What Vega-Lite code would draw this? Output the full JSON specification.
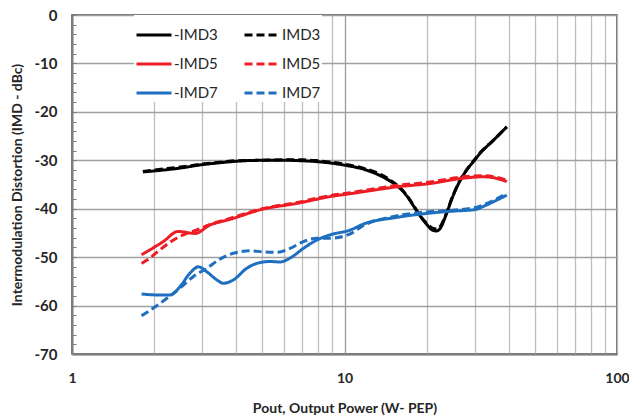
{
  "$schema": "https://vega.github.io/schema/vega-lite/v6.json",
  "width": 545,
  "height": 339,
  "autosize": {"type": "none"},
  "padding": {"left": 72, "top": 15, "right": 12, "bottom": 64},
  "background": "white",
  "config": {
    "view": {"stroke": "#404040", "strokeWidth": 1.5},
    "font": "Lato"
  },
  "data": {
    "values": [
      {"x": 1.82, "y": -32.4, "series": "-IMD3"},
      {"x": 2, "y": -32.2, "series": "-IMD3"},
      {"x": 2.5, "y": -31.6, "series": "-IMD3"},
      {"x": 3, "y": -30.9, "series": "-IMD3"},
      {"x": 3.5, "y": -30.5, "series": "-IMD3"},
      {"x": 4, "y": -30.2, "series": "-IMD3"},
      {"x": 5, "y": -30.0, "series": "-IMD3"},
      {"x": 6, "y": -30.0, "series": "-IMD3"},
      {"x": 7, "y": -30.1, "series": "-IMD3"},
      {"x": 8, "y": -30.3, "series": "-IMD3"},
      {"x": 9, "y": -30.6, "series": "-IMD3"},
      {"x": 10, "y": -31.0, "series": "-IMD3"},
      {"x": 12, "y": -32.0, "series": "-IMD3"},
      {"x": 14, "y": -33.6, "series": "-IMD3"},
      {"x": 15, "y": -34.6, "series": "-IMD3"},
      {"x": 16, "y": -35.8, "series": "-IMD3"},
      {"x": 17, "y": -37.5, "series": "-IMD3"},
      {"x": 18, "y": -39.6, "series": "-IMD3"},
      {"x": 19, "y": -41.6, "series": "-IMD3"},
      {"x": 20, "y": -43.2, "series": "-IMD3"},
      {"x": 21, "y": -44.4, "series": "-IMD3"},
      {"x": 21.7, "y": -44.6, "series": "-IMD3"},
      {"x": 22.5, "y": -44.0, "series": "-IMD3"},
      {"x": 23.5, "y": -41.5, "series": "-IMD3"},
      {"x": 25, "y": -37.4, "series": "-IMD3"},
      {"x": 26.5, "y": -34.3, "series": "-IMD3"},
      {"x": 28.1, "y": -32.0, "series": "-IMD3"},
      {"x": 30, "y": -30.0, "series": "-IMD3"},
      {"x": 31.4, "y": -28.6, "series": "-IMD3"},
      {"x": 35, "y": -26.0, "series": "-IMD3"},
      {"x": 39.4, "y": -23.1, "series": "-IMD3"},

      {"x": 1.82, "y": -32.3, "series": "IMD3"},
      {"x": 2, "y": -32.0, "series": "IMD3"},
      {"x": 2.5, "y": -31.4, "series": "IMD3"},
      {"x": 3, "y": -30.8, "series": "IMD3"},
      {"x": 3.5, "y": -30.4, "series": "IMD3"},
      {"x": 4, "y": -30.1, "series": "IMD3"},
      {"x": 5, "y": -30.0, "series": "IMD3"},
      {"x": 6, "y": -29.9, "series": "IMD3"},
      {"x": 7, "y": -29.9, "series": "IMD3"},
      {"x": 8, "y": -30.1, "series": "IMD3"},
      {"x": 9, "y": -30.4, "series": "IMD3"},
      {"x": 10, "y": -30.8, "series": "IMD3"},
      {"x": 12, "y": -31.8, "series": "IMD3"},
      {"x": 14, "y": -33.3, "series": "IMD3"},
      {"x": 15, "y": -34.4, "series": "IMD3"},
      {"x": 16, "y": -35.7, "series": "IMD3"},
      {"x": 17, "y": -37.4, "series": "IMD3"},
      {"x": 18, "y": -39.5, "series": "IMD3"},
      {"x": 19, "y": -41.5, "series": "IMD3"},
      {"x": 20, "y": -43.0, "series": "IMD3"},
      {"x": 21, "y": -44.0, "series": "IMD3"},
      {"x": 21.7, "y": -44.2, "series": "IMD3"},
      {"x": 22.5, "y": -43.6, "series": "IMD3"},
      {"x": 23.5, "y": -41.3, "series": "IMD3"},
      {"x": 25, "y": -37.3, "series": "IMD3"},
      {"x": 26.5, "y": -34.2, "series": "IMD3"},
      {"x": 28.1, "y": -31.9, "series": "IMD3"},
      {"x": 30, "y": -29.9, "series": "IMD3"},
      {"x": 31.4, "y": -28.5, "series": "IMD3"},
      {"x": 35, "y": -26.0, "series": "IMD3"},
      {"x": 39.4, "y": -23.1, "series": "IMD3"},

      {"x": 1.8, "y": -49.5, "series": "-IMD5"},
      {"x": 2.16, "y": -46.8, "series": "-IMD5"},
      {"x": 2.45, "y": -44.7, "series": "-IMD5"},
      {"x": 2.83, "y": -45.1, "series": "-IMD5"},
      {"x": 3.2, "y": -43.4, "series": "-IMD5"},
      {"x": 3.8, "y": -42.2, "series": "-IMD5"},
      {"x": 5, "y": -40.1, "series": "-IMD5"},
      {"x": 6.7, "y": -38.9, "series": "-IMD5"},
      {"x": 8.85, "y": -37.5, "series": "-IMD5"},
      {"x": 10.5, "y": -36.9, "series": "-IMD5"},
      {"x": 11.7, "y": -36.5, "series": "-IMD5"},
      {"x": 15.5, "y": -35.5, "series": "-IMD5"},
      {"x": 20.6, "y": -34.8, "series": "-IMD5"},
      {"x": 27.3, "y": -33.7, "series": "-IMD5"},
      {"x": 32.3, "y": -33.4, "series": "-IMD5"},
      {"x": 36, "y": -33.7, "series": "-IMD5"},
      {"x": 39.4, "y": -34.4, "series": "-IMD5"},

      {"x": 1.8, "y": -51.3, "series": "IMD5"},
      {"x": 1.93, "y": -50.2, "series": "IMD5"},
      {"x": 2.1, "y": -48.5, "series": "IMD5"},
      {"x": 2.35, "y": -46.5, "series": "IMD5"},
      {"x": 2.56, "y": -45.4, "series": "IMD5"},
      {"x": 2.87, "y": -44.4, "series": "IMD5"},
      {"x": 3.2, "y": -43.3, "series": "IMD5"},
      {"x": 3.8, "y": -42.0, "series": "IMD5"},
      {"x": 5, "y": -40.0, "series": "IMD5"},
      {"x": 6.7, "y": -38.7, "series": "IMD5"},
      {"x": 8.85, "y": -37.3, "series": "IMD5"},
      {"x": 10.5, "y": -36.7, "series": "IMD5"},
      {"x": 15.5, "y": -35.2, "series": "IMD5"},
      {"x": 20.6, "y": -34.5, "series": "IMD5"},
      {"x": 27.3, "y": -33.4, "series": "IMD5"},
      {"x": 32.3, "y": -33.2, "series": "IMD5"},
      {"x": 36, "y": -33.5, "series": "IMD5"},
      {"x": 39.4, "y": -34.1, "series": "IMD5"},

      {"x": 1.8, "y": -57.6, "series": "-IMD7"},
      {"x": 2.05, "y": -57.8, "series": "-IMD7"},
      {"x": 2.29, "y": -57.8, "series": "-IMD7"},
      {"x": 2.49, "y": -56.1, "series": "-IMD7"},
      {"x": 2.71, "y": -53.3, "series": "-IMD7"},
      {"x": 2.91, "y": -52.0, "series": "-IMD7"},
      {"x": 3.12, "y": -53.0, "series": "-IMD7"},
      {"x": 3.4, "y": -54.7, "series": "-IMD7"},
      {"x": 3.59, "y": -55.4, "series": "-IMD7"},
      {"x": 3.91, "y": -54.7, "series": "-IMD7"},
      {"x": 4.38, "y": -52.3, "series": "-IMD7"},
      {"x": 4.76, "y": -51.3, "series": "-IMD7"},
      {"x": 5.33, "y": -50.9, "series": "-IMD7"},
      {"x": 5.8, "y": -51.0, "series": "-IMD7"},
      {"x": 6.31, "y": -50.2, "series": "-IMD7"},
      {"x": 7.06, "y": -48.2, "series": "-IMD7"},
      {"x": 7.9, "y": -46.5, "series": "-IMD7"},
      {"x": 8.85, "y": -45.4, "series": "-IMD7"},
      {"x": 10.5, "y": -44.4, "series": "-IMD7"},
      {"x": 11.7, "y": -43.2, "series": "-IMD7"},
      {"x": 15.5, "y": -41.8, "series": "-IMD7"},
      {"x": 20.6, "y": -40.9, "series": "-IMD7"},
      {"x": 25, "y": -40.5, "series": "-IMD7"},
      {"x": 30, "y": -40.2, "series": "-IMD7"},
      {"x": 33, "y": -39.3, "series": "-IMD7"},
      {"x": 36, "y": -38.3, "series": "-IMD7"},
      {"x": 39.4, "y": -37.2, "series": "-IMD7"},

      {"x": 1.8, "y": -62.1, "series": "IMD7"},
      {"x": 1.99, "y": -60.5, "series": "IMD7"},
      {"x": 2.23, "y": -58.5, "series": "IMD7"},
      {"x": 2.49, "y": -56.4, "series": "IMD7"},
      {"x": 2.79, "y": -54.0, "series": "IMD7"},
      {"x": 3.12, "y": -52.3, "series": "IMD7"},
      {"x": 3.49, "y": -50.4, "series": "IMD7"},
      {"x": 3.91, "y": -49.2, "series": "IMD7"},
      {"x": 4.5, "y": -48.7, "series": "IMD7"},
      {"x": 5.03, "y": -48.9, "series": "IMD7"},
      {"x": 5.64, "y": -49.0, "series": "IMD7"},
      {"x": 6.31, "y": -48.2, "series": "IMD7"},
      {"x": 7.06, "y": -46.8, "series": "IMD7"},
      {"x": 7.9, "y": -46.1, "series": "IMD7"},
      {"x": 8.85, "y": -46.1, "series": "IMD7"},
      {"x": 10.5, "y": -45.2, "series": "IMD7"},
      {"x": 11.7, "y": -43.5, "series": "IMD7"},
      {"x": 15.5, "y": -41.5, "series": "IMD7"},
      {"x": 20.6, "y": -40.6, "series": "IMD7"},
      {"x": 25, "y": -40.3, "series": "IMD7"},
      {"x": 30, "y": -39.8, "series": "IMD7"},
      {"x": 33, "y": -39.0, "series": "IMD7"},
      {"x": 36, "y": -38.0, "series": "IMD7"},
      {"x": 39.4, "y": -36.8, "series": "IMD7"}
    ]
  },
  "mark": {"type": "line", "strokeWidth": 3, "interpolate": "monotone", "clip": true},
  "encoding": {
    "x": {
      "field": "x",
      "type": "quantitative",
      "scale": {"type": "log", "domain": [1, 100], "nice": false},
      "axis": {
        "title": "Pout, Output Power (W- PEP)",
        "values": [1, 2, 3, 4, 5, 6, 7, 8, 9, 10, 20, 30, 40, 50, 60, 70, 80, 90, 100],
        "labelExpr": "(datum.value === 1 || datum.value === 10 || datum.value === 100) ? format(datum.value, 'd') : ''",
        "labelFlush": false,
        "labelOverlap": false,
        "ticks": false,
        "labelPadding": 17,
        "labelFont": "Lato",
        "labelFontSize": 14,
        "labelFontWeight": "bold",
        "labelColor": "#262626",
        "grid": true,
        "gridColor": {"condition": {"test": "datum.value === 10", "value": "#9a9a9a"}, "value": "#bdbdbd"},
        "gridWidth": 1.3,
        "domainColor": "#7f7f7f",
        "domainWidth": 2,
        "titleFont": "Lato",
        "titleFontSize": 14,
        "titleFontWeight": "bold",
        "titleColor": "#262626",
        "titleX": 272.5,
        "titleY": 54,
        "titleBaseline": "middle",
        "titleAlign": "center"
      }
    },
    "y": {
      "field": "y",
      "type": "quantitative",
      "scale": {"domain": [-70, 0], "nice": false, "zero": false},
      "axis": {
        "title": "Intermodulation Distortion (IMD - dBc)",
        "values": [-70, -68, -66, -64, -62, -60, -58, -56, -54, -52, -50, -48, -46, -44, -42, -40, -38, -36, -34, -32, -30, -28, -26, -24, -22, -20, -18, -16, -14, -12, -10, -8, -6, -4, -2, 0],
        "labelExpr": "datum.value % 10 === 0 ? (datum.value < 0 ? '-' + format(-datum.value, 'd') : '0') : ''",
        "labelOverlap": false,
        "tickSize": -4,
        "tickColor": "#7f7f7f",
        "tickWidth": 1,
        "labelPadding": 19,
        "labelFont": "Lato",
        "labelFontSize": 15,
        "labelFontWeight": "bold",
        "labelColor": "#262626",
        "grid": true,
        "gridColor": "#a0a0a0",
        "gridOpacity": {"condition": {"test": "datum.value % 10 === 0", "value": 1}, "value": 0},
        "gridWidth": 1.3,
        "domainColor": "#7f7f7f",
        "domainWidth": 2,
        "titleFont": "Lato",
        "titleFontSize": 14,
        "titleFontWeight": "bold",
        "titleColor": "#262626",
        "titleAngle": -90,
        "titleX": -55,
        "titleY": 169.5,
        "titleBaseline": "middle",
        "titleAlign": "center"
      }
    },
    "color": {
      "field": "series",
      "type": "nominal",
      "scale": {
        "domain": ["-IMD3", "-IMD5", "-IMD7", "IMD3", "IMD5", "IMD7"],
        "range": ["#000000", "#ee1d25", "#1f6fc0", "#000000", "#ee1d25", "#1f6fc0"]
      },
      "legend": {
        "title": null,
        "orient": "none",
        "legendX": 62,
        "legendY": 0,
        "columns": 2,
        "columnPadding": 20,
        "rowPadding": 2,
        "padding": 1,
        "fillColor": "white",
        "strokeColor": null,
        "symbolType": "stroke",
        "symbolSize": 1225,
        "symbolStrokeWidth": 3,
        "labelFont": "Lato",
        "labelFontSize": 15,
        "labelColor": "#262626",
        "labelOffset": 1
      }
    },
    "strokeDash": {
      "field": "series",
      "type": "nominal",
      "scale": {
        "domain": ["-IMD3", "-IMD5", "-IMD7", "IMD3", "IMD5", "IMD7"],
        "range": [[1, 0], [1, 0], [1, 0], [8, 4], [8, 4], [8, 4]]
      },
      "legend": {
        "title": null,
        "orient": "none",
        "legendX": 62,
        "legendY": 0,
        "columns": 2,
        "columnPadding": 20,
        "rowPadding": 2,
        "padding": 1,
        "fillColor": "white",
        "symbolType": "stroke",
        "symbolSize": 1225,
        "symbolStrokeWidth": 3,
        "labelFont": "Lato",
        "labelFontSize": 15,
        "labelColor": "#262626",
        "labelOffset": 1
      }
    }
  }
}
